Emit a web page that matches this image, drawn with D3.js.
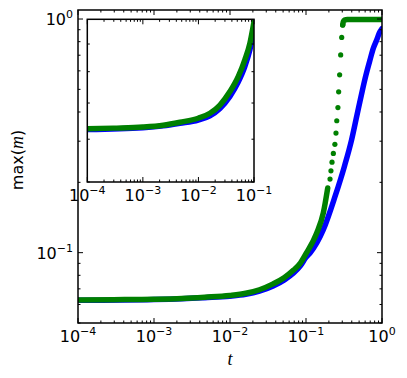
<!DOCTYPE html>
<html><head><meta charset="utf-8">
<script src="https://cdn.jsdelivr.net/npm/d3@7"></script>
<style>html,body{margin:0;padding:0;background:#fff;} svg{display:block;}</style>
</head><body>
<svg id="c" width="407" height="378"></svg>
<script>
// ---- data ----
const greenT = [1e-4, 2.94e-4, 1e-3, 2.33e-3, 4.65e-3, 0.0099, 0.0161, 0.0244, 0.0369, 0.052, 0.0686, 0.0843, 0.1, 0.138, 0.169, 0.193];
const greenM = [0.0627, 0.0629, 0.0632, 0.0637, 0.0645, 0.0656, 0.0670, 0.0694, 0.0735, 0.0783, 0.0842, 0.0903, 0.099, 0.121, 0.148, 0.189];
const greenJumpT = [0.207, 0.213, 0.220, 0.229, 0.240, 0.248, 0.254, 0.263, 0.269, 0.277, 0.286, 0.295, 0.304];
const greenJumpM = [0.2066, 0.224, 0.244, 0.266, 0.291, 0.325, 0.367, 0.418, 0.488, 0.577, 0.702, 0.834, 0.943];
const greenTopT = [0.304, 0.31, 0.32, 0.35, 0.45, 0.6, 1.0];
const greenTopM = [0.943, 0.975, 0.99, 0.995, 0.995, 0.995, 0.995];
const blueT = [1e-4, 1e-3, 2.33e-3, 4.65e-3, 0.0099, 0.0161, 0.0244, 0.0369, 0.052, 0.0686, 0.0843, 0.1, 0.113, 0.169, 0.241, 0.32, 0.398, 0.47, 0.541, 0.61, 0.695, 0.77, 0.851, 0.92, 1.0];
const blueM = [0.0625, 0.0630, 0.0635, 0.0642, 0.0651, 0.0663, 0.0684, 0.0720, 0.0765, 0.0818, 0.0878, 0.0955, 0.0997, 0.1254, 0.174, 0.234, 0.304, 0.39, 0.481, 0.57, 0.668, 0.75, 0.813, 0.87, 0.91];
const mainXTicks = [1e-4, 1e-3, 1e-2, 1e-1, 1];
const mainXLabels = ["−4", "−3", "−2", "−1", "0"];
const mainYTicks = [0.1, 1];
const mainYLabels = ["−1", "0"];
const insetXTicks = [1e-4, 1e-3, 1e-2, 1e-1];
const insetXLabels = ["−4", "−3", "−2", "−1"];

const svg = d3.select("#c");
const BLUE = "#0000ff", GREEN = "#008000";
const FONT = "DejaVu Sans";

function minorTicks(lo, hi) {
  const out = [];
  for (let e = Math.floor(Math.log10(lo)) - 1; e <= Math.ceil(Math.log10(hi)); e++) {
    for (let k = 2; k <= 9; k++) { const v = k * Math.pow(10, e); if (v >= lo * 0.999 && v <= hi * 1.001) out.push(v); }
  }
  return out;
}

function panel(g, box, xDom, yDom, xTicks, xLabels, yTicks, yLabels, clipId, showDots) {
  const x = d3.scaleLog().domain(xDom).range([box.l, box.r]);
  const y = d3.scaleLog().domain(yDom).range([box.b, box.t]);
  g.append("rect").attr("x", box.l).attr("y", box.t).attr("width", box.r - box.l).attr("height", box.b - box.t).attr("fill", "#fff");
  g.append("clipPath").attr("id", clipId).append("rect").attr("x", box.l).attr("y", box.t).attr("width", box.r - box.l).attr("height", box.b - box.t);
  const plot = g.append("g").attr("clip-path", `url(#${clipId})`);
  const line = d3.line().x(d => x(d[0])).y(d => y(d[1])).curve(d3.curveMonotoneX);
  const sty = (p, c) => p.attr("fill", "none").attr("stroke", c).attr("stroke-width", 5.5).attr("stroke-linejoin", "round").attr("stroke-linecap", "round");
  sty(plot.append("path").attr("d", line(blueT.map((t, i) => [t, blueM[i]]))), BLUE);
  sty(plot.append("path").attr("d", line(greenT.map((t, i) => [t, greenM[i]]))), GREEN);
  sty(plot.append("path").attr("d", line(greenTopT.map((t, i) => [t, greenTopM[i]]))), GREEN);
  if (showDots) {
    plot.selectAll("circle.j").data(greenJumpT.map((t, i) => [t, greenJumpM[i]])).join("circle")
      .attr("cx", d => x(d[0])).attr("cy", d => y(d[1])).attr("r", 2.6).attr("fill", GREEN);
  }
  // ticks (inward, all sides)
  const tk = g.append("g").attr("stroke", "#000").attr("stroke-width", 1);
  const MAJ = 5, MIN = 2.5;
  const xMin = minorTicks(xDom[0], xDom[1]);
  const yMin = minorTicks(yDom[0], yDom[1]);
  xTicks.forEach(v => { const px = x(v);
    tk.append("line").attr("x1", px).attr("x2", px).attr("y1", box.b).attr("y2", box.b - MAJ);
    tk.append("line").attr("x1", px).attr("x2", px).attr("y1", box.t).attr("y2", box.t + MAJ); });
  xMin.forEach(v => { const px = x(v);
    tk.append("line").attr("x1", px).attr("x2", px).attr("y1", box.b).attr("y2", box.b - MIN);
    tk.append("line").attr("x1", px).attr("x2", px).attr("y1", box.t).attr("y2", box.t + MIN); });
  yTicks.forEach(v => { const py = y(v);
    tk.append("line").attr("y1", py).attr("y2", py).attr("x1", box.l).attr("x2", box.l + MAJ);
    tk.append("line").attr("y1", py).attr("y2", py).attr("x1", box.r).attr("x2", box.r - MAJ); });
  yMin.forEach(v => { const py = y(v);
    tk.append("line").attr("y1", py).attr("y2", py).attr("x1", box.l).attr("x2", box.l + MIN);
    tk.append("line").attr("y1", py).attr("y2", py).attr("x1", box.r).attr("x2", box.r - MIN); });
  g.append("rect").attr("x", box.l).attr("y", box.t).attr("width", box.r - box.l).attr("height", box.b - box.t)
    .attr("fill", "none").attr("stroke", "#000").attr("stroke-width", 1.5);
  // tick labels
  xTicks.forEach((v, i) => {
    const t = g.append("text").attr("x", x(v)).attr("y", box.b + 19).attr("text-anchor", "middle")
      .attr("font-family", FONT).attr("font-size", 16);
    t.append("tspan").text("10");
    t.append("tspan").attr("dy", -7).attr("font-size", 11).text(xLabels[i]);
  });
  yTicks.forEach((v, i) => {
    const t = g.append("text").attr("x", box.l - 5).attr("y", y(v) + 6).attr("text-anchor", "end")
      .attr("font-family", FONT).attr("font-size", 16);
    t.append("tspan").text("10");
    t.append("tspan").attr("dy", -7).attr("font-size", 11).text(yLabels[i]);
  });
  return {x, y};
}

const mainBox = {l: 78, r: 382, t: 10, b: 323};
panel(svg.append("g"), mainBox, [1e-4, 1], [0.05, 1.093], mainXTicks, mainXLabels, mainYTicks, mainYLabels, "clipMain", true);
const insetBox = {l: 87.3, r: 254, t: 19.3, b: 182};
panel(svg.append("g"), insetBox, [1e-4, 0.1], [0.05, 0.1], insetXTicks, insetXLabels, [], [], "clipInset", false);

// axis titles
const yl = svg.append("text").attr("transform", "translate(23,160) rotate(-90)").attr("text-anchor", "middle")
  .attr("font-family", FONT).attr("font-size", 16);
yl.append("tspan").text("max(");
yl.append("tspan").attr("font-family", "Liberation Serif").attr("font-style", "italic").attr("font-size", 18).text("m");
yl.append("tspan").text(")");
svg.append("text").attr("x", 230).attr("y", 365).attr("text-anchor", "middle")
  .attr("font-family", "Liberation Serif").attr("font-style", "italic").attr("font-size", 18).text("t");
</script>
</body></html>
